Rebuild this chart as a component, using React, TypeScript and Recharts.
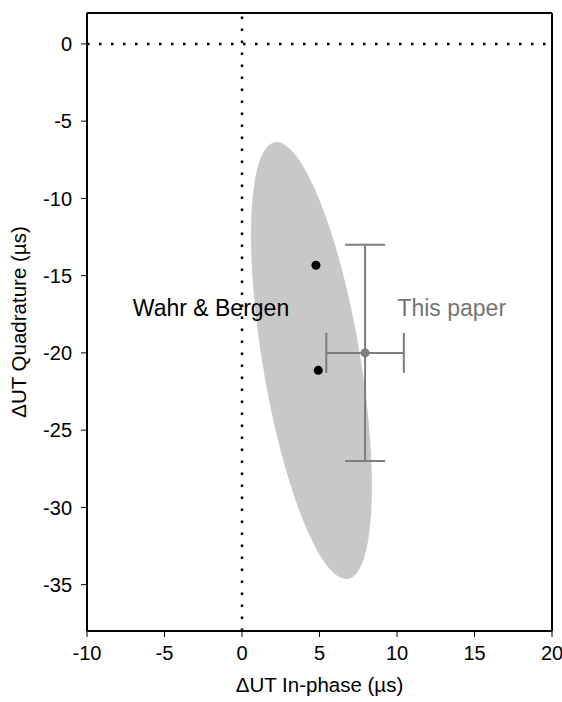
import React from 'react';
import {
  ComposedChart,
  XAxis,
  YAxis,
  Scatter,
  ErrorBar,
  ReferenceLine,
  ReferenceArea,
  ReferenceDot,
} from 'recharts';

// ---- axes ----
const xTicks = [-10, -5, 0, 5, 10, 15, 20];
const yTicks = [0, -5, -10, -15, -20, -25, -30, -35];
const xDomain = [-10, 20];
const yDomain = [-38, 2];

// ---- Wahr & Bergen model values ----
const wahrBergen = [
  { x: 4.77, y: -14.33 },
  { x: 4.92, y: -21.13 },
];

// ---- This paper: estimate with errors ----
const thisPaper = [{ x: 7.94, y: -20.0, ex: 2.5, ey: 7.0 }];

// ---- confidence ellipse ----
const ellipseCenter = { x: 4.48, y: -20.5 };
const ellipseSemiMinor = 3.15;
const ellipseSemiMajor = 14.33;
const ellipseTiltDeg = -9.5;

// ---- text annotations (data coordinates) ----
const annotations = [
  { x: -2.0, y: -17.06, text: 'Wahr & Bergen', color: '#000000' },
  { x: 13.53, y: -17.06, text: 'This paper', color: '#747474' },
];

const GRAY = '#7d7d7d';
const FONT = '"Liberation Sans", Arial, Helvetica, sans-serif';

const EllipseShape = (props: any) => {
  const { x, y, width, height } = props;
  const cx = x + width / 2;
  const cy = y + height / 2;
  return (
    <ellipse
      cx={cx}
      cy={cy}
      rx={Math.abs(width) / 2}
      ry={Math.abs(height) / 2}
      transform={`rotate(${ellipseTiltDeg} ${cx} ${cy})`}
      fill="#c8c8c8"
      stroke="none"
    />
  );
};

const YTitle = (props: any) => {
  const vb = props.viewBox || { x: 0, y: 13, width: 87, height: 618 };
  const cx = vb.x + 26;
  const cy = vb.y + vb.height / 2;
  return (
    <text
      x={cx}
      y={cy}
      transform={`rotate(-90 ${cx} ${cy})`}
      textAnchor="middle"
      fill="#000"
      fontSize={20.5}
      fontFamily={FONT}
    >
      ΔUT Quadrature (µs)
    </text>
  );
};

export default function App() {
  const tickStyle = { fill: '#000', fontSize: 20, fontFamily: FONT };
  return (
    <div style={{ position: 'absolute', left: 0, top: 0, fontFamily: FONT }}>
      <ComposedChart
        width={562}
        height={702}
        margin={{ top: 12, right: 9, bottom: 0, left: 0 }}
      >
        <XAxis
          xAxisId={0}
          type="number"
          dataKey="x"
          domain={xDomain}
          ticks={xTicks}
          allowDataOverflow
          orientation="bottom"
          height={71}
          stroke="#000"
          axisLine={{ stroke: '#000', strokeWidth: 2 }}
          tickLine={{ stroke: '#000', strokeWidth: 1 }}
          tickSize={6}
          tickMargin={9}
          tick={tickStyle}
          label={{
            value: 'ΔUT In-phase (µs)',
            position: 'insideBottom',
            offset: 10,
            fill: '#000',
            fontSize: 20.5,
          }}
        />
        <XAxis
          xAxisId="top"
          type="number"
          dataKey="x"
          domain={xDomain}
          ticks={xTicks}
          allowDataOverflow
          orientation="top"
          height={1}
          stroke="#000"
          axisLine={{ stroke: '#000', strokeWidth: 2 }}
          tickLine={{ stroke: '#000', strokeWidth: 1 }}
          tickSize={6}
          tick={false}
        />
        <YAxis
          yAxisId={0}
          type="number"
          domain={yDomain}
          ticks={yTicks}
          allowDataOverflow
          orientation="left"
          width={87}
          stroke="#000"
          axisLine={{ stroke: '#000', strokeWidth: 2 }}
          tickLine={{ stroke: '#000', strokeWidth: 1 }}
          tickSize={6}
          tickMargin={9}
          tick={tickStyle}
          label={{ content: YTitle }}
        />
        <YAxis
          yAxisId="right"
          type="number"
          domain={yDomain}
          ticks={yTicks}
          allowDataOverflow
          orientation="right"
          width={1}
          stroke="#000"
          axisLine={{ stroke: '#000', strokeWidth: 2 }}
          tickLine={{ stroke: '#000', strokeWidth: 1 }}
          tickSize={6}
          tick={false}
        />

        <ReferenceArea
          xAxisId={0}
          yAxisId={0}
          x1={ellipseCenter.x - ellipseSemiMinor}
          x2={ellipseCenter.x + ellipseSemiMinor}
          y1={ellipseCenter.y - ellipseSemiMajor}
          y2={ellipseCenter.y + ellipseSemiMajor}
          ifOverflow="visible"
          shape={EllipseShape}
        />

        <ReferenceLine
          xAxisId={0}
          yAxisId={0}
          x={0}
          stroke="#000"
          strokeWidth={2.5}
          strokeDasharray="2.5 9.5"
        />
        <ReferenceLine
          xAxisId={0}
          yAxisId={0}
          y={0}
          stroke="#000"
          strokeWidth={2.5}
          strokeDasharray="2.5 9.5"
        />

        <Scatter
          xAxisId={0}
          yAxisId={0}
          data={thisPaper}
          dataKey="y"
          fill={GRAY}
          isAnimationActive={false}
        >
          <ErrorBar dataKey="ex" direction="x" width={20} stroke={GRAY} strokeWidth={2} isAnimationActive={false} />
          <ErrorBar dataKey="ey" direction="y" width={20} stroke={GRAY} strokeWidth={2} isAnimationActive={false} />
        </Scatter>

        <Scatter
          xAxisId={0}
          yAxisId={0}
          data={wahrBergen}
          dataKey="y"
          fill="#000"
          isAnimationActive={false}
        />

        {annotations.map((a) => (
          <ReferenceDot
            key={a.text}
            xAxisId={0}
            yAxisId={0}
            x={a.x}
            y={a.y}
            r={0}
            fill="none"
            stroke="none"
            ifOverflow="visible"
            label={{ value: a.text, position: 'center', fill: a.color, fontSize: 23 }}
          />
        ))}
      </ComposedChart>
    </div>
  );
}
